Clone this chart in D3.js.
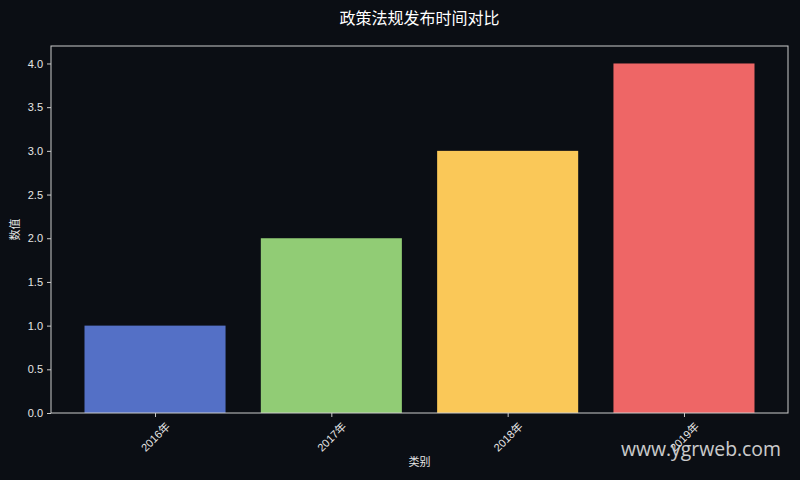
<!DOCTYPE html>
<html>
<head>
<meta charset="utf-8">
<script src="https://cdn.jsdelivr.net/npm/d3@7"></script>
<style>
  html, body { margin: 0; padding: 0; background: #0b0e14; }
  svg { display: block; }
</style>
</head>
<body>
<script>
// chart data
const categories = ['2016年', '2017年', '2018年', '2019年'];
const values = [1, 2, 3, 4];
const barColors = ['#5470c6', '#91cc75', '#fac858', '#ee6666'];
const yTicks = [0, 0.5, 1.0, 1.5, 2.0, 2.5, 3.0, 3.5, 4.0];

const width = 800, height = 480;
const margin = { top: 46, right: 12, bottom: 67, left: 51 };
const font = '"Liberation Sans", "Noto Sans CJK SC", sans-serif';
const textColor = '#e6e6e6';
const axisColor = '#cccccc';

const svg = d3.select('body')
  .append('svg')
  .attr('width', width)
  .attr('height', height);

svg.append('rect')
  .attr('width', width)
  .attr('height', height)
  .attr('fill', '#0b0e14');

const x = d3.scaleLinear()
  .domain([-0.59, categories.length - 1 + 0.59])
  .range([margin.left, width - margin.right]);

const y = d3.scaleLinear()
  .domain([0, 4.2])
  .range([height - margin.bottom, margin.top]);

const barWidth = 0.8;

// bars
svg.selectAll('rect.bar')
  .data(values)
  .enter()
  .append('rect')
  .attr('class', 'bar')
  .attr('x', (d, i) => x(i - barWidth / 2))
  .attr('width', (d, i) => x(i + barWidth / 2) - x(i - barWidth / 2))
  .attr('y', d => y(d))
  .attr('height', d => y(0) - y(d))
  .attr('fill', (d, i) => barColors[i]);

// frame
svg.append('rect')
  .attr('x', margin.left)
  .attr('y', margin.top)
  .attr('width', width - margin.left - margin.right)
  .attr('height', height - margin.top - margin.bottom)
  .attr('fill', 'none')
  .attr('stroke', axisColor)
  .attr('stroke-width', 1);

// y axis
const yAxis = svg.append('g')
  .attr('transform', `translate(${margin.left},0)`)
  .call(d3.axisLeft(y).tickValues(yTicks).tickFormat(d3.format('.1f')).tickSize(4).tickPadding(4));
yAxis.select('.domain').remove();
yAxis.selectAll('line').attr('stroke', axisColor);
yAxis.selectAll('text')
  .attr('fill', textColor)
  .style('font-family', font)
  .style('font-size', '11px');

// x axis
const xAxis = svg.append('g')
  .attr('transform', `translate(0,${height - margin.bottom})`)
  .call(d3.axisBottom(x).tickValues(d3.range(categories.length)).tickFormat(i => categories[i]).tickSize(4));
xAxis.select('.domain').remove();
xAxis.selectAll('line').attr('stroke', axisColor);
xAxis.selectAll('text')
  .attr('fill', textColor)
  .attr('x', 0)
  .attr('y', 24)
  .attr('dy', '0.35em')
  .attr('text-anchor', 'middle')
  .attr('transform', 'rotate(-45, 0, 24)')
  .style('font-family', font)
  .style('font-size', '11px');

// title and labels
svg.append('text')
  .attr('x', (margin.left + width - margin.right) / 2)
  .attr('y', 18)
  .attr('dy', '0.35em')
  .attr('text-anchor', 'middle')
  .attr('fill', '#ffffff')
  .style('font-family', font)
  .style('font-size', '16px')
  .text('政策法规发布时间对比');

svg.append('text')
  .attr('transform', `translate(15,${(margin.top + height - margin.bottom) / 2}) rotate(-90)`)
  .attr('dy', '0.35em')
  .attr('text-anchor', 'middle')
  .attr('fill', textColor)
  .style('font-family', font)
  .style('font-size', '11px')
  .text('数值');

svg.append('text')
  .attr('x', (margin.left + width - margin.right) / 2)
  .attr('y', 462)
  .attr('dy', '0.35em')
  .attr('text-anchor', 'middle')
  .attr('fill', textColor)
  .style('font-family', font)
  .style('font-size', '11px')
  .text('类别');

// watermark
svg.append('text')
  .attr('x', 781)
  .attr('y', 456)
  .attr('text-anchor', 'end')
  .attr('fill', '#e0e0e0')
  .attr('opacity', 0.9)
  .style('font-family', '"Open Sans", "DejaVu Sans", sans-serif')
  .style('font-size', '19.4px')
  .text('www.ygrweb.com');
</script>
</body>
</html>
